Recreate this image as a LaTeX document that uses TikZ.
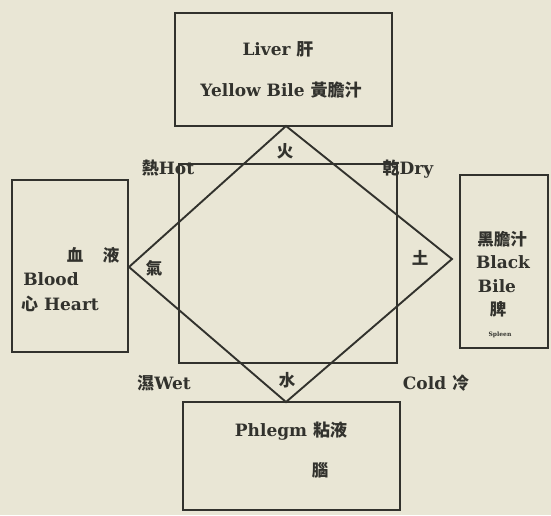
\documentclass[tikz,border=0pt]{standalone}
\usepackage{fontspec}
\setmainfont{DejaVu Serif}
\newfontfamily\cjk{Noto Sans CJK TC}
\definecolor{paper}{RGB}{233,230,213}
\definecolor{ink}{RGB}{50,50,45}
\begin{document}
\begin{tikzpicture}[x=1pt,y=-1pt,
  box/.style={draw=ink,line width=1.9pt,rectangle,inner sep=0pt},
  lbl/.style={text=ink,font=\bfseries\fontsize{17}{19}\selectfont,inner sep=0pt,anchor=base},
  zh/.style={text=ink,font=\cjk\bfseries\fontsize{16.5}{19}\selectfont,inner sep=0pt,anchor=base},
  edge/.style={draw=ink,line width=1.9pt}]
\fill[paper] (0,0) rectangle (551,515);
\useasboundingbox (0,0) rectangle (551,515);
% boxes
\node[box,minimum width=217pt,minimum height=113pt] (liver) at (283.5,69.5) {};
\node[box,minimum width=116pt,minimum height=172pt] (blood) at (70,266) {};
\node[box,minimum width=88pt,minimum height=173pt] (black) at (504,261.5) {};
\node[box,minimum width=217pt,minimum height=108pt] (phlegm) at (291.5,456) {};
\node[box,minimum width=218pt,minimum height=199pt] (sq) at (288,263.5) {};
% diamond
\coordinate (dT) at (286,126);
\coordinate (dR) at (452,259);
\coordinate (dB) at (286,402);
\coordinate (dL) at (129,267);
\draw[edge,line join=miter] (dT) -- (dR) -- (dB) -- (dL) -- cycle;
% top box text
\node[lbl] (t1) at (278,55) {Liver {\cjk 肝}};
\node[lbl] (t2) at (281,96) {Yellow Bile {\cjk 黃膽汁}};
% corner labels
\node[lbl] (hot) at (168,174) {{\cjk 熱}Hot};
\node[zh] (fire) at (285,157) {火};
\node[lbl] (dry) at (408,174) {{\cjk 乾}Dry};
\node[lbl] (wet) at (164,389) {{\cjk 濕}Wet};
\node[zh] (water) at (287,386) {水};
\node[lbl] (cold) at (436,389) {Cold {\cjk 冷}};
\node[zh] (qi) at (154,274) {氣};
\node[zh] (earth) at (420,264) {土};
% left box
\node[zh] (b1) at (75,261) {血};
\node[zh] (b2) at (111,261) {液};
\node[lbl] (b3) at (51,285) {Blood};
\node[lbl] (b4) at (60,310) {{\cjk 心} Heart};
% right box
\node[zh] (r1) at (502,245) {黑膽汁};
\node[lbl] (r2) at (503,268) {Black};
\node[lbl] (r3) at (497,292) {Bile};
\node[zh] (r4) at (498,315) {脾};
\node[text=ink,font=\bfseries\fontsize{6}{7}\selectfont,inner sep=0pt,anchor=base] (r5) at (500,336) {Spleen};
% bottom box
\node[lbl] (p1) at (291,436) {Phlegm {\cjk 粘液}};
\node[zh] (p2) at (320,476) {腦};
\end{tikzpicture}
\end{document}
